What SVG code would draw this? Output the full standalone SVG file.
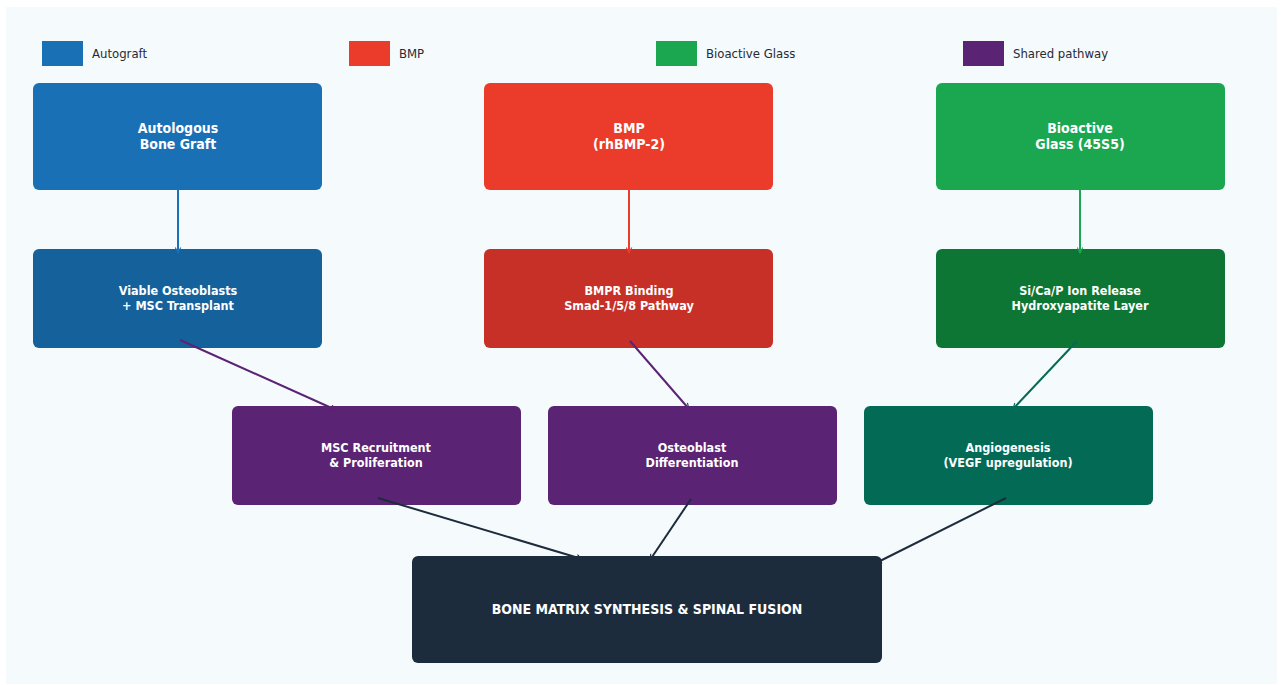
<svg xmlns="http://www.w3.org/2000/svg" width="1283" height="685" viewBox="0 0 1283 685">
<style>
text{font-family:"DejaVu Sans Condensed","DejaVu Sans","Liberation Sans",sans-serif}
.t{fill:#ffffff;font-weight:bold;text-anchor:middle}
.big{font-size:14px}
.sm{font-size:12.5px}
.lg{font-size:13px;fill:#262b36}
.c{fill:none;stroke-width:2}
</style>
<defs>
<marker id="ab" viewBox="0 0 10 10" refX="9" refY="5" markerWidth="7" markerHeight="7" orient="auto" markerUnits="userSpaceOnUse"><path d="M1,1 L9,5 L1,9" fill="none" stroke="#1a70b5" stroke-width="1.6"/></marker>
<marker id="ar" viewBox="0 0 10 10" refX="9" refY="5" markerWidth="7" markerHeight="7" orient="auto" markerUnits="userSpaceOnUse"><path d="M1,1 L9,5 L1,9" fill="none" stroke="#eb3b2b" stroke-width="1.6"/></marker>
<marker id="ag" viewBox="0 0 10 10" refX="9" refY="5" markerWidth="7" markerHeight="7" orient="auto" markerUnits="userSpaceOnUse"><path d="M1,1 L9,5 L1,9" fill="none" stroke="#1aa750" stroke-width="1.6"/></marker>
<marker id="ap" viewBox="0 0 10 10" refX="9" refY="5" markerWidth="7" markerHeight="7" orient="auto" markerUnits="userSpaceOnUse"><path d="M1,1 L9,5 L1,9" fill="none" stroke="#5b2373" stroke-width="1.6"/></marker>
<marker id="at" viewBox="0 0 10 10" refX="9" refY="5" markerWidth="7" markerHeight="7" orient="auto" markerUnits="userSpaceOnUse"><path d="M1,1 L9,5 L1,9" fill="none" stroke="#036b55" stroke-width="1.6"/></marker>
<marker id="ad" viewBox="0 0 10 10" refX="9" refY="5" markerWidth="7" markerHeight="7" orient="auto" markerUnits="userSpaceOnUse"><path d="M1,1 L9,5 L1,9" fill="none" stroke="#1d2c3d" stroke-width="1.6"/></marker>
</defs>
<rect x="0" y="0" width="1283" height="685" fill="#ffffff"/>
<rect x="6" y="7" width="1271" height="677" fill="#f5fafd"/>

<g id="legend">
<rect x="42" y="41" width="41" height="25" fill="#1a70b5"/><text class="lg" x="92" y="58">Autograft</text>
<rect x="349" y="41" width="41" height="25" fill="#eb3b2b"/><text class="lg" x="399" y="58">BMP</text>
<rect x="656" y="41" width="41" height="25" fill="#1aa750"/><text class="lg" x="706" y="58">Bioactive Glass</text>
<rect x="963" y="41" width="41" height="25" fill="#5b2373"/><text class="lg" x="1013" y="58">Shared pathway</text>
</g>

<g id="n-autograft"><rect x="33" y="83" width="289" height="107" rx="6" fill="#1a70b5"/><text class="t big" x="178" y="133">Autologous</text><text class="t big" x="178" y="149">Bone Graft</text></g>
<g id="n-bmp"><rect x="484" y="83" width="289" height="107" rx="6" fill="#eb3b2b"/><text class="t big" x="629" y="133">BMP</text><text class="t big" x="629" y="149">(rhBMP-2)</text></g>
<g id="n-glass"><rect x="936" y="83" width="289" height="107" rx="6" fill="#1aa750"/><text class="t big" x="1080" y="133">Bioactive</text><text class="t big" x="1080" y="149">Glass (45S5)</text></g>

<g id="n-viable"><rect x="33" y="249" width="289" height="99" rx="6" fill="#14619c"/><text class="t sm" x="178" y="295">Viable Osteoblasts</text><text class="t sm" x="178" y="310">+ MSC Transplant</text></g>
<g id="n-bmpr"><rect x="484" y="249" width="289" height="99" rx="6" fill="#c63027"/><text class="t sm" x="629" y="295">BMPR Binding</text><text class="t sm" x="629" y="310">Smad-1/5/8 Pathway</text></g>
<g id="n-ion"><rect x="936" y="249" width="289" height="99" rx="6" fill="#0e7635"/><text class="t sm" x="1080" y="295">Si/Ca/P Ion Release</text><text class="t sm" x="1080" y="310">Hydroxyapatite Layer</text></g>

<g id="n-msc"><rect x="232" y="406" width="289" height="99" rx="6" fill="#5b2373"/><text class="t sm" x="376" y="452">MSC Recruitment</text><text class="t sm" x="376" y="467">&amp; Proliferation</text></g>
<g id="n-osteo"><rect x="548" y="406" width="289" height="99" rx="6" fill="#5b2373"/><text class="t sm" x="692" y="452">Osteoblast</text><text class="t sm" x="692" y="467">Differentiation</text></g>
<g id="n-angio"><rect x="864" y="406" width="289" height="99" rx="6" fill="#036b55"/><text class="t sm" x="1008" y="452">Angiogenesis</text><text class="t sm" x="1008" y="467">(VEGF upregulation)</text></g>

<g id="n-fusion"><rect x="412" y="556" width="470" height="107" rx="6" fill="#1d2c3d"/><text class="t big" x="647" y="614">BONE MATRIX SYNTHESIS &amp; SPINAL FUSION</text></g>

<g id="connectors">
<line class="c" x1="178" y1="190" x2="178" y2="253" stroke="#1a70b5" marker-end="url(#ab)"/>
<line class="c" x1="629" y1="190" x2="629" y2="253" stroke="#eb3b2b" marker-end="url(#ar)"/>
<line class="c" x1="1080" y1="190" x2="1080" y2="253" stroke="#1aa750" marker-end="url(#ag)"/>
<line class="c" x1="180" y1="340" x2="336" y2="410" stroke="#5b2373" marker-end="url(#ap)"/>
<line class="c" x1="630" y1="341" x2="689" y2="409" stroke="#5b2373" marker-end="url(#ap)"/>
<line class="c" x1="1077" y1="341" x2="1013" y2="409" stroke="#036b55" marker-end="url(#at)"/>
<line class="c" x1="378" y1="498" x2="582" y2="559" stroke="#1d2c3d" marker-end="url(#ad)"/>
<line class="c" x1="691" y1="499" x2="650" y2="560" stroke="#1d2c3d" marker-end="url(#ad)"/>
<line class="c" x1="1006" y1="498" x2="876" y2="563" stroke="#1d2c3d" marker-end="url(#ad)"/>
</g>
</svg>
